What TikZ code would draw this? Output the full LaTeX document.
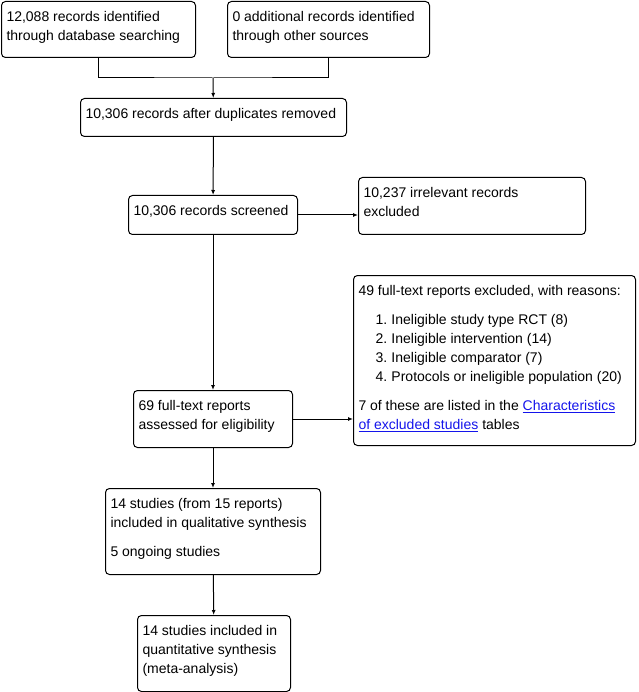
\documentclass[tikz,border=0pt]{standalone}
\usepackage{fontspec}
\setmainfont{Liberation Sans}
\usetikzlibrary{arrows.meta}
\definecolor{linkblue}{RGB}{20,20,235}
\newcommand{\boxtext}[3]{\parbox[c][#2][t]{#1}{\rule{0pt}{20pt}#3}}
\newcommand{\gap}{\par\vspace{10pt}}
\newcommand{\reason}[2]{\par\hspace*{17pt}\makebox[16pt][l]{#1}#2}
\newcommand{\link}[1]{\textcolor{linkblue}{\underline{#1}}}
\begin{document}
\begin{tikzpicture}[x=1pt,y=-1pt,line width=1pt,>={Latex[length=5pt,width=4pt]},
  box/.style={draw,rounded corners=4pt,anchor=north west,inner xsep=5pt,inner ysep=0pt,
    font=\fontsize{14}{19}\selectfont}]
\useasboundingbox (0,0) rectangle (638,692);
\node[box] (a) at (1,1) {\boxtext{184pt}{56pt}{12,088 records identified\\through database searching}};
\node[box] (b) at (227,1) {\boxtext{192pt}{56pt}{0 additional records identified\\through other sources}};
\node[box] (c) at (80,98) {\boxtext{256pt}{38pt}{10,306 records after duplicates removed}};
\node[box] (d) at (128,195) {\boxtext{159pt}{39pt}{10,306 records screened}};
\node[box] (e) at (358,177) {\boxtext{217pt}{57pt}{10,237 irrelevant records\\excluded}};
\node[box] (f) at (353,275) {\boxtext{272pt}{170pt}{49 full-text reports excluded, with reasons:\gap
  \reason{1.}{Ineligible study type RCT (8)}
  \reason{2.}{Ineligible intervention (14)}
  \reason{3.}{Ineligible comparator (7)}
  \reason{4.}{Protocols or ineligible population (20)}\gap
  7 of these are listed in the \link{Characteristics}\\\link{of excluded studies} tables}};
\node[box] (g) at (133,390) {\boxtext{149pt}{57pt}{69 full-text reports\\assessed for eligibility}};
\node[box] (h) at (105,488) {\boxtext{205pt}{86pt}{14 studies (from 15 reports)\\included in qualitative synthesis\gap
  5 ongoing studies}};
\node[box] (i) at (137,615) {\boxtext{143pt}{76pt}{14 studies included in\\quantitative synthesis\\(meta-analysis)}};
\coordinate (j) at (213,78);
\draw (a.south) |- (j) -| (b.south);
\draw[->] (j) -- (c);
\draw[->] (c) -- (d);
\draw[->] (d.east) -- (d.east -| e.west);
\draw[->] (d) -- (g);
\draw[->] (g.east) -- (g.east -| f.west);
\draw[->] (g) -- (h);
\draw[->] (h) -- (i);
\end{tikzpicture}
\end{document}
